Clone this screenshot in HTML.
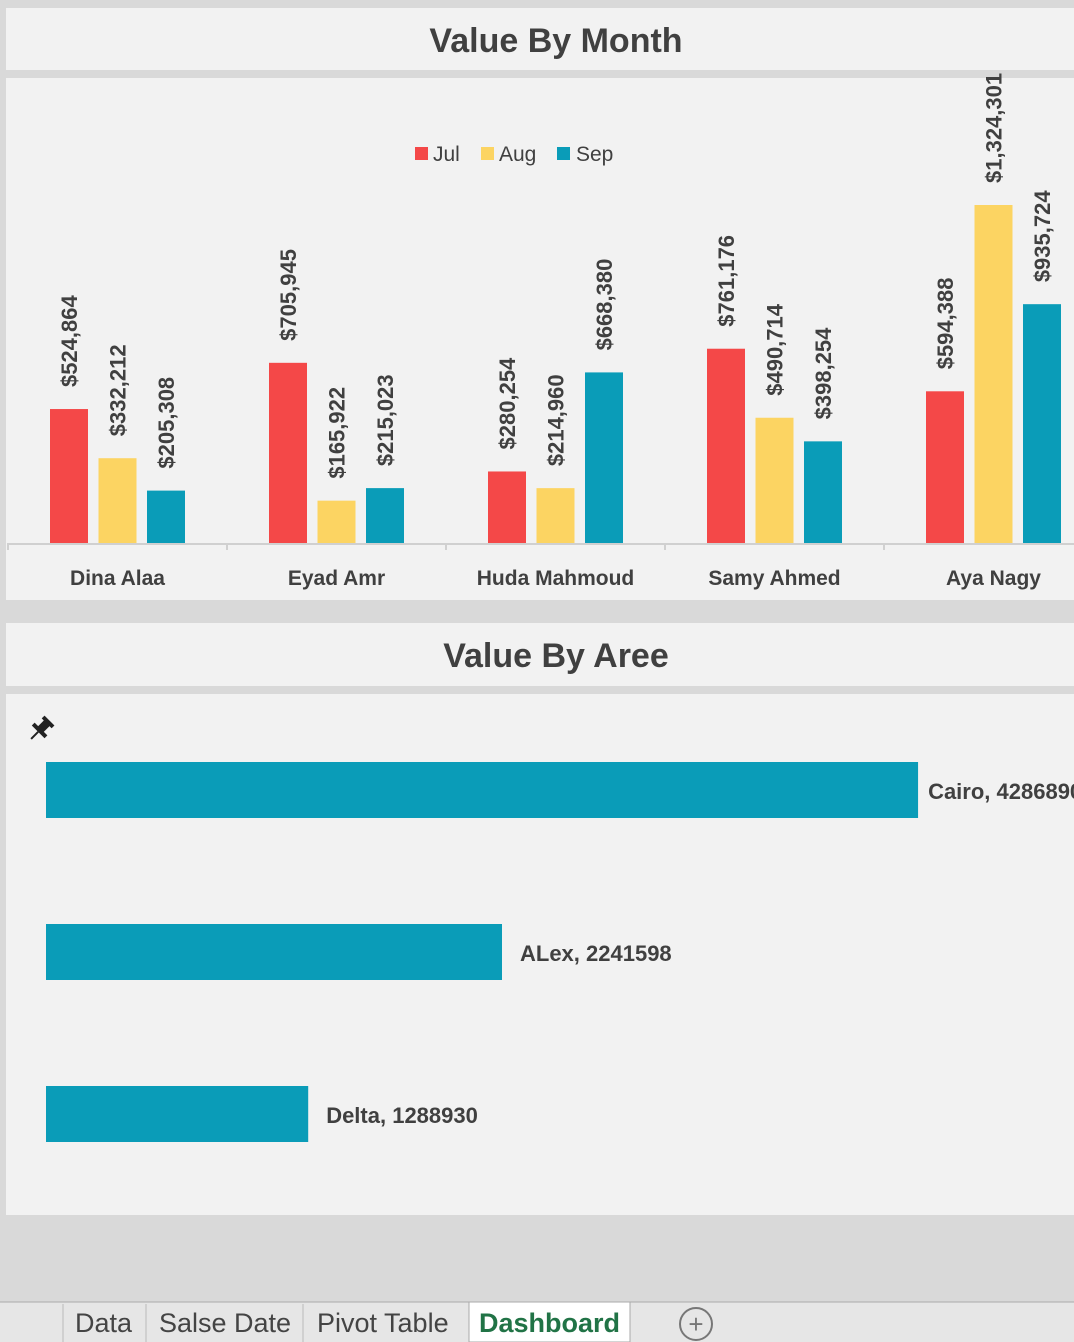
<!DOCTYPE html>
<html><head><meta charset="utf-8"><style>
body{margin:0;width:1074px;height:1342px;background:#d6d6d6;overflow:hidden;font-family:"Liberation Sans",sans-serif}
svg{display:block}
</style></head><body>
<svg id="s" width="1074" height="1342" xmlns="http://www.w3.org/2000/svg">
<rect x="0" y="0" width="1074" height="1342" fill="#d9d9d9"/>
<rect x="6" y="8" width="1068" height="62" fill="#f2f2f2"/>
<text x="556" y="52" text-anchor="middle" font-size="34" font-weight="bold" fill="#404040">Value By Month</text>
<rect x="6" y="78" width="1068" height="522" fill="#f2f2f2"/>
<g>
<rect x="415" y="147" width="13" height="13" fill="#f44848"/>
<text x="433" y="161" font-size="21" fill="#404040">Jul</text>
<rect x="481" y="147" width="13" height="13" fill="#fcd462"/>
<text x="499" y="161" font-size="21" fill="#404040">Aug</text>
<rect x="557" y="147" width="13" height="13" fill="#0a9cb8"/>
<text x="576" y="161" font-size="21" fill="#404040">Sep</text>
</g>
<g id="cols"></g>
<rect x="6" y="623" width="1068" height="63" fill="#f2f2f2"/>
<text x="556" y="667" text-anchor="middle" font-size="34" font-weight="bold" fill="#404040">Value By Aree</text>
<rect x="6" y="694" width="1068" height="521" fill="#f2f2f2"/>
<g transform="translate(41,729) rotate(45)" fill="#222">
<rect x="-7" y="-12" width="14" height="4"/>
<rect x="-4" y="-9" width="8" height="10"/>
<rect x="-9" y="0" width="18" height="4"/>
<rect x="-1" y="4" width="2" height="10"/>
</g>
<g id="hbars"></g>
<rect x="0" y="1302" width="1074" height="40" fill="#e6e6e6"/>
<line x1="0" y1="1302" x2="1074" y2="1302" stroke="#aaa"/>
<line x1="63" y1="1304" x2="63" y2="1342" stroke="#bbb"/>
<line x1="146" y1="1304" x2="146" y2="1342" stroke="#bbb"/>
<line x1="303" y1="1304" x2="303" y2="1342" stroke="#bbb"/>
<text x="75" y="1332" font-size="27" fill="#444">Data</text>
<text x="159" y="1332" font-size="27" fill="#444">Salse Date</text>
<text x="317" y="1332" font-size="27" fill="#444">Pivot Table</text>
<rect x="469" y="1302" width="161" height="40" fill="#ffffff" stroke="#aaa"/>
<text x="479" y="1332" font-size="27" font-weight="bold" fill="#217346">Dashboard</text>
<circle cx="696" cy="1324" r="16" fill="none" stroke="#777" stroke-width="2"/>
<text x="696" y="1333" text-anchor="middle" font-size="26" fill="#777">+</text>
</svg>
<script>
const people=["Dina Alaa","Eyad Amr","Huda Mahmoud","Samy Ahmed","Aya Nagy"];
const jul=[524864,705945,280254,761176,594388];
const aug=[332212,165922,214960,490714,1324301];
const sep=[205308,215023,668380,398254,935724];
const colors=["#f44848","#fcd462","#0a9cb8"];
const areas=["Cairo","ALex","Delta"];
const areaValues=[4286890,2241598,1288930];
const NS="http://www.w3.org/2000/svg";
function mk(tag,attrs,parent){const e=document.createElementNS(NS,tag);for(const k in attrs)e.setAttribute(k,attrs[k]);parent.appendChild(e);return e;}
const base=543, yScale=v=>v*338/1324301;
const catW=219, x0=8;
const xCenter=i=>x0+catW*i+109.5;
const fmt=v=>"$"+v.toLocaleString("en-US");
const cols=document.getElementById("cols");
const axis=mk("line",{x1:8,y1:base+1,x2:1074,y2:base+1,stroke:"#d0d0d0","stroke-width":2},cols);


const series=[jul,aug,sep], sNames=["jul","aug","sep"];
people.forEach((p,i)=>{
  const tk=mk("line",{x1:x0+catW*i,y1:base,x2:x0+catW*i,y2:base+7,stroke:"#d0d0d0","stroke-width":2},cols);
  
  
  const lb=mk("text",{x:xCenter(i),y:585,"text-anchor":"middle","font-size":21,"font-weight":"bold",fill:"#404040"},cols);
  lb.textContent=p;
  
  
  series.forEach((s,j)=>{
    const h=yScale(s[i]);
    const cx=xCenter(i)+(j-1)*48.5;
    const r=mk("rect",{x:cx-19,y:base-h,width:38,height:h,fill:colors[j]},cols);
    
    
    const t=mk("text",{x:0,y:0,"font-size":22,"font-weight":"bold",fill:"#404040",transform:`translate(${cx+8},${base-h-22}) rotate(-90)`},cols);
    t.textContent=fmt(s[i]);
    
    
  });
});
const hb=document.getElementById("hbars");
const hScale=v=>v*456/2241598;
areaValues.forEach((v,i)=>{
  const cy=790+162*i, w=hScale(v);
  const r=mk("rect",{x:46,y:cy-28,width:w,height:56,fill:"#0a9cb8"},hb);
  
  
  const t=mk("text",{x:46+w+(i===0?10:18),y:cy+9,"font-size":22,"font-weight":"bold",fill:"#404040"},hb);
  t.textContent=areas[i]+", "+v;
  
  
});
</script>
</body></html>
